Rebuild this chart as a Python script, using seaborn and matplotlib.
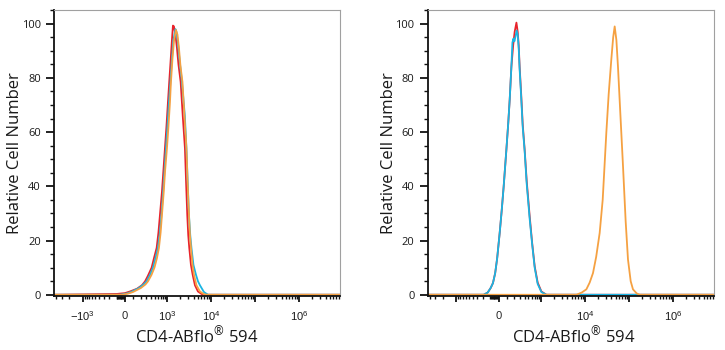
import numpy as np
import pandas as pd
import matplotlib
matplotlib.use("Agg")
import matplotlib.pyplot as plt
import seaborn as sns
from matplotlib.ticker import FixedLocator, FixedFormatter, MultipleLocator

# Histogram traces (fluorescence value, relative cell number)
# left panel: all three samples overlap
left_red_x = [-4500, -95, 0, 58, 147, 222, 275, 333, 417, 478, 557, 616, 669, 747, 810, 878, 952, 1032, 1106,
              1198, 1277, 1347, 1420, 1538, 1665, 1802, 2023, 2260, 2536, 2700, 2865, 3016, 3182, 3474, 3802,
              4285, 5017, 6180, 7630, 8.5e6]
left_red_y = [0, 0.3, 0.6, 1.2, 2.2, 3.5, 4.9, 7, 10, 13.5, 17.3, 23, 29.4, 38, 46, 54, 62, 71, 78.5,
              87, 94, 99.3, 99, 96, 91, 85, 78.5, 66, 54, 41, 29.4, 22, 17.3, 11, 7.4,
              3.5, 1.2, 0.2, 0, 0]

left_blue_x = [-4500, -58, 23, 70, 176, 248, 303, 377, 451, 520, 599, 669, 727, 797, 860, 927, 1005, 1089,
               1179, 1277, 1383, 1538, 1621, 1755, 1899, 2167, 2522, 2743, 2937, 3131, 3348, 3567, 3962,
               4517, 5017, 5570, 6866, 8466, 8.5e6]
left_blue_y = [0, 0, 0.5, 1, 2.5, 3.8, 4.9, 7.3, 10, 13.5, 17.3, 23, 29.4, 38, 46, 54, 62, 71,
               78.5, 87, 94, 98, 97, 93, 87, 78.5, 66, 54, 41, 29.4, 22, 17.3, 11,
               7.4, 5, 3.5, 1, 0, 0]

left_orange_x = [-4500, -35, 35, 95, 206, 284, 333, 413, 492, 566, 633, 695, 747, 823, 888, 978, 1060, 1149,
                 1211, 1312, 1420, 1579, 1709, 1850, 2001, 2224, 2470, 2743, 2922, 3131, 3295, 3478, 3759,
                 4070, 4634, 5570, 6866, 8032, 8.5e6]
left_orange_y = [0, 0, 0.4, 1, 2.5, 3.8, 4.9, 7.3, 10, 13.5, 17.3, 23, 29.4, 38, 46, 54, 62, 71,
                 78.5, 87, 93.5, 97.7, 96, 91, 84.5, 78.5, 66, 54, 41, 29.4, 22, 17.3, 11,
                 7.4, 3.5, 1.2, 0.2, 0, 0]

# right panel: controls (red, blue) vs stained sample (orange)
right_red_x = [-4500, -191, -134, -95, -67, -40.5, -17.3, 11.5, 34.7, 58.2, 91, 114, 134, 157, 183, 206, 235,
               257, 275, 293, 323, 355, 400, 451, 535, 616, 707, 832, 1016, 1325, 8.5e6]
right_red_y = [0, 0, 0.8, 2.5, 4.3, 8, 13.5, 22.8, 31, 40, 53.5, 63, 72, 84, 92, 97, 100.4,
               97, 92, 84, 74, 63, 53.5, 42, 29, 19, 10.5, 4.5, 1.2, 0, 0]

right_blue_x = [-4500, -191, -134, -95, -67, -40.5, -17.3, 11.5, 34.7, 58.2, 91, 114, 134, 157, 172, 186, 202,
                222, 239, 257, 275, 293, 323, 355, 400, 451, 535, 616, 707, 832, 1016, 1325, 8.5e6]
right_blue_y = [0, 0, 0.8, 2.5, 4.3, 8, 13.5, 22.8, 31, 40, 53.5, 63, 72, 84, 93, 94.5, 93.5,
                95.5, 97.5, 96, 91, 83, 73, 62, 53, 41, 28, 18.5, 10, 4, 1, 0, 0]

right_orange_x = [-4500, 6420, 8466, 10820, 12870, 15300, 18080, 21700, 25410, 30800, 34770, 40000, 44020,
                  47600, 52030, 56600, 63470, 73500, 84630, 95500, 110000, 124000, 150500, 176000, 8.5e6]
right_orange_y = [0, 0, 0.8, 2, 4.5, 8, 14, 22.8, 35, 60, 74, 87, 95,
                  99, 94, 84, 68, 47.6, 27, 13, 5, 2, 0.5, 0, 0]

samples = ["red", "blue", "orange"]
colors = {"red": "#e8232b", "blue": "#19b5e3", "orange": "#f5a142"}

major_ticks = [-1e3, 0, 1e3, 1e4, 1e5, 1e6]
left_labels = [r"$-10^{3}$", "0", r"$10^{3}$", r"$10^{4}$", "", r"$10^{6}$"]
right_labels = ["", "0", "", r"$10^{4}$", "", r"$10^{6}$"]
minor_ticks = [m * 10.0 ** k for k in range(2, 7) for m in range(1, 10) if m * 10 ** k not in major_ticks]
minor_ticks += [-m * 10.0 ** k for k in range(1, 4) for m in range(1, 10) if m * 10 ** k != 1e3]


def fwd(x):
    return np.arcsinh(np.asarray(x, dtype=float) / 220.0) / np.log(10)


def inv(y):
    return 220.0 * np.sinh(np.asarray(y, dtype=float) * np.log(10))


def trace_frame(xs, ys):
    parts = [pd.DataFrame({"x": x, "y": y, "sample": s}) for s, x, y in zip(samples, xs, ys)]
    return pd.concat(parts, ignore_index=True)


sns.set_theme(style="white")
plt.rcParams["font.family"] = ["Open Sans", "DejaVu Sans"]
plt.rcParams["mathtext.fontset"] = "custom"
plt.rcParams["mathtext.rm"] = "Liberation Sans"
plt.rcParams["mathtext.it"] = "Liberation Sans"
plt.rcParams["mathtext.bf"] = "Liberation Sans:bold"

fig = plt.figure(figsize=(7.25, 3.5), dpi=100)
ax1 = fig.add_axes([0.0745, 0.154, 0.3945, 0.817])
ax2 = fig.add_axes([0.590, 0.154, 0.3945, 0.817])

panels = [
    (ax1, trace_frame([left_red_x, left_blue_x, left_orange_x], [left_red_y, left_blue_y, left_orange_y]), left_labels, 0.5),
    (ax2, trace_frame([right_red_x, right_blue_x, right_orange_x], [right_red_y, right_blue_y, right_orange_y]), right_labels, 0.51),
]

for ax, df, labels, xl in panels:
    sns.lineplot(data=df, x="x", y="y", hue="sample", hue_order=samples, palette=colors,
                 estimator=None, sort=False, legend=False, linewidth=1.3, ax=ax)
    ax.set_xscale("function", functions=(fwd, inv))
    ax.set_xlim(-4500, 8.5e6)
    ax.set_ylim(-0.5, 105)

    ax.xaxis.set_major_locator(FixedLocator(major_ticks))
    ax.xaxis.set_major_formatter(FixedFormatter(labels))
    ax.xaxis.set_minor_locator(FixedLocator(minor_ticks))
    ax.yaxis.set_major_locator(MultipleLocator(20))
    ax.yaxis.set_minor_locator(MultipleLocator(5))

    for side in ["left", "bottom"]:
        ax.spines[side].set_color("#111111")
        ax.spines[side].set_linewidth(1.3)
    for side in ["top", "right"]:
        ax.spines[side].set_color("#a0a0a0")
        ax.spines[side].set_linewidth(0.8)

    ax.tick_params(axis="y", which="major", direction="out", length=5.5, width=1.3, color="#111111",
                   labelsize=8, labelcolor="#1a1a1a", pad=4, left=True)
    ax.tick_params(axis="y", which="minor", direction="out", length=3, width=1.0, color="#111111", left=True)
    ax.tick_params(axis="x", which="major", direction="out", length=4.5, width=1.3, color="#111111",
                   labelsize=8, labelcolor="#1a1a1a", pad=6, bottom=True)
    ax.tick_params(axis="x", which="minor", direction="out", length=2.5, width=1.0, color="#111111", bottom=True)

    ax.set_ylabel("Relative Cell Number", fontsize=12, color="#1a1a1a")
    ax.set_xlabel(r"CD4-ABflo$^{\mathregular{®}}$ 594", fontsize=12, color="#1a1a1a")
    ax.yaxis.set_label_coords(-0.108, 0.5)
    ax.xaxis.set_label_coords(xl, -0.10)

fig.savefig("out.png", dpi=100)
